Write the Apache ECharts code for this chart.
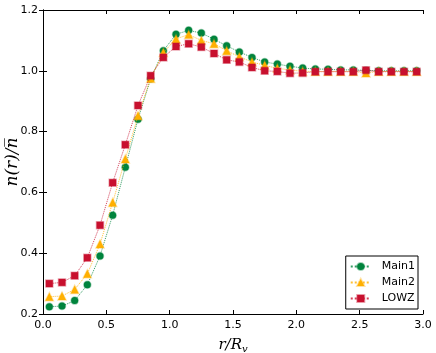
<!DOCTYPE html>
<html>
<head>
<meta charset="utf-8">
<script src="https://cdn.jsdelivr.net/npm/echarts@6/dist/echarts.min.js"></script>
<style>
html, body { margin: 0; padding: 0; background: #fff; }
#main { width: 436px; height: 353px; }
</style>
</head>
<body>
<div id="main"></div>
<script>
// r/Rv bin centres
var radii = [0.05, 0.15, 0.25, 0.35, 0.45, 0.55, 0.65, 0.75, 0.85, 0.95,
    1.05, 1.15, 1.25, 1.35, 1.45, 1.55, 1.65, 1.75, 1.85, 1.95,
    2.05, 2.15, 2.25, 2.35, 2.45, 2.55, 2.65, 2.75, 2.85, 2.95];
var main1 = [0.224, 0.226, 0.244, 0.296, 0.391, 0.525, 0.683, 0.841, 0.974, 1.066,
    1.120, 1.133, 1.124, 1.104, 1.082, 1.062, 1.044, 1.029, 1.022, 1.015,
    1.009, 1.006, 1.005, 1.003, 1.003, 1.001, 1.000, 1.000, 1.000, 1.000];
var main2 = [0.257, 0.259, 0.281, 0.332, 0.430, 0.567, 0.710, 0.852, 0.975, 1.060,
    1.105, 1.119, 1.100, 1.089, 1.066, 1.046, 1.029, 1.018, 1.008, 1.003,
    0.998, 0.998, 0.998, 0.998, 0.998, 0.993, 0.998, 0.998, 0.998, 0.998];
var lowz = [0.300, 0.304, 0.326, 0.385, 0.492, 0.632, 0.757, 0.886, 0.984, 1.044,
    1.080, 1.089, 1.078, 1.057, 1.036, 1.029, 1.011, 1.000, 0.998, 0.992,
    0.993, 0.997, 0.997, 0.997, 0.997, 1.002, 0.997, 0.997, 0.997, 0.997];
var seriesNames = ['Main1', 'Main2', 'LOWZ'];

var Chart = function() {
    var t = {
        colors : ['#00843d', '#ffb000', '#c8102e'],
        halos : ['rgba(0,132,61,0.35)', 'rgba(255,176,0,0.35)', 'rgba(200,16,46,0.35)'],
        symbols : ['circle', 'triangle', 'rect'],
        pairs : function(ys) {
            var out = [];
            for (var i = 0; i < radii.length; i++) {
                out.push([radii[i], ys[i]]);
            }
            return out;
        },
        makeSeries : function(idx, ys) {
            return {
                name : seriesNames[idx],
                type : 'line',
                data : t.pairs(ys),
                symbol : t.symbols[idx],
                symbolSize : idx == 1 ? 8 : 7,
                lineStyle : { color : t.colors[idx], width : 1, type : 'dotted', opacity : 0.8 },
                itemStyle : { color : t.colors[idx], borderColor : t.halos[idx], borderWidth : 1.5 },
                emphasis : { disabled : true },
                z : 3 + idx
            };
        },
        render : function() {
            var myChart = echarts.init(document.getElementById('main'));
            var tickStyle = { inside : true, length : 4, lineStyle : { color : '#000' } };
            var option = {
                animation : false,
                backgroundColor : '#fff',
                grid : { left : 43, right : 13, top : 10, bottom : 39, containLabel : false, outerBoundsMode : 'none' },
                legend : {
                    data : seriesNames,
                    right : 18,
                    bottom : 44,
                    orient : 'vertical',
                    itemGap : 5,
                    itemWidth : 20,
                    itemHeight : 9,
                    padding : [5, 3, 5, 4],
                    borderColor : '#000',
                    borderWidth : 1,
                    backgroundColor : '#fff',
                    textStyle : { fontFamily : 'DejaVu Sans', fontSize : 11, color : '#000', padding : [0, 0, 0, 6] }
                },
                xAxis : [{
                    type : 'value', min : 0, max : 3, interval : 0.5,
                    axisLine : { lineStyle : { color : '#000', width : 1 } },
                    axisTick : tickStyle,
                    splitLine : { show : false },
                    axisLabel : {
                        color : '#000', fontFamily : 'DejaVu Sans', fontSize : 11, margin : 6,
                        formatter : function(v) { return v.toFixed(1); }
                    },
                    name : '{a|r/R}{s|v}',
                    nameLocation : 'middle',
                    nameGap : 22,
                    nameMoveOverlap : false,
                    nameTextStyle : {
                        rich : {
                            a : { fontFamily : 'DejaVu Serif', fontStyle : 'italic', fontSize : 15, color : '#000' },
                            s : { fontFamily : 'DejaVu Serif', fontStyle : 'italic', fontSize : 10, color : '#000', padding : [8, 0, 0, 0] }
                        }
                    }
                }, {
                    type : 'value', min : 0, max : 3, interval : 0.5, position : 'top',
                    axisLine : { lineStyle : { color : '#000', width : 1 } },
                    axisTick : tickStyle,
                    axisLabel : { show : false },
                    splitLine : { show : false }
                }],
                yAxis : [{
                    type : 'value', min : 0.2, max : 1.2, interval : 0.2,
                    axisLine : { show : true, lineStyle : { color : '#000', width : 1 } },
                    axisTick : tickStyle,
                    splitLine : { show : false },
                    axisLabel : {
                        color : '#000', fontFamily : 'DejaVu Sans', fontSize : 11, margin : 5,
                        formatter : function(v) { return v.toFixed(1); }
                    },
                    name : 'n(r)/n\u0305',
                    nameLocation : 'middle',
                    nameGap : 22,
                    nameMoveOverlap : false,
                    nameTextStyle : { fontFamily : 'DejaVu Serif', fontStyle : 'italic', fontSize : 17, color : '#000' }
                }, {
                    type : 'value', min : 0.2, max : 1.2, interval : 0.2, position : 'right',
                    axisLine : { show : true, lineStyle : { color : '#000', width : 1 } },
                    axisTick : tickStyle,
                    axisLabel : { show : false },
                    splitLine : { show : false }
                }],
                series : [
                    t.makeSeries(0, main1),
                    t.makeSeries(1, main2),
                    t.makeSeries(2, lowz)
                ]
            };
            myChart.setOption(option);
        }
    };
    return t;
}();
Chart.render();
</script>
</body>
</html>
